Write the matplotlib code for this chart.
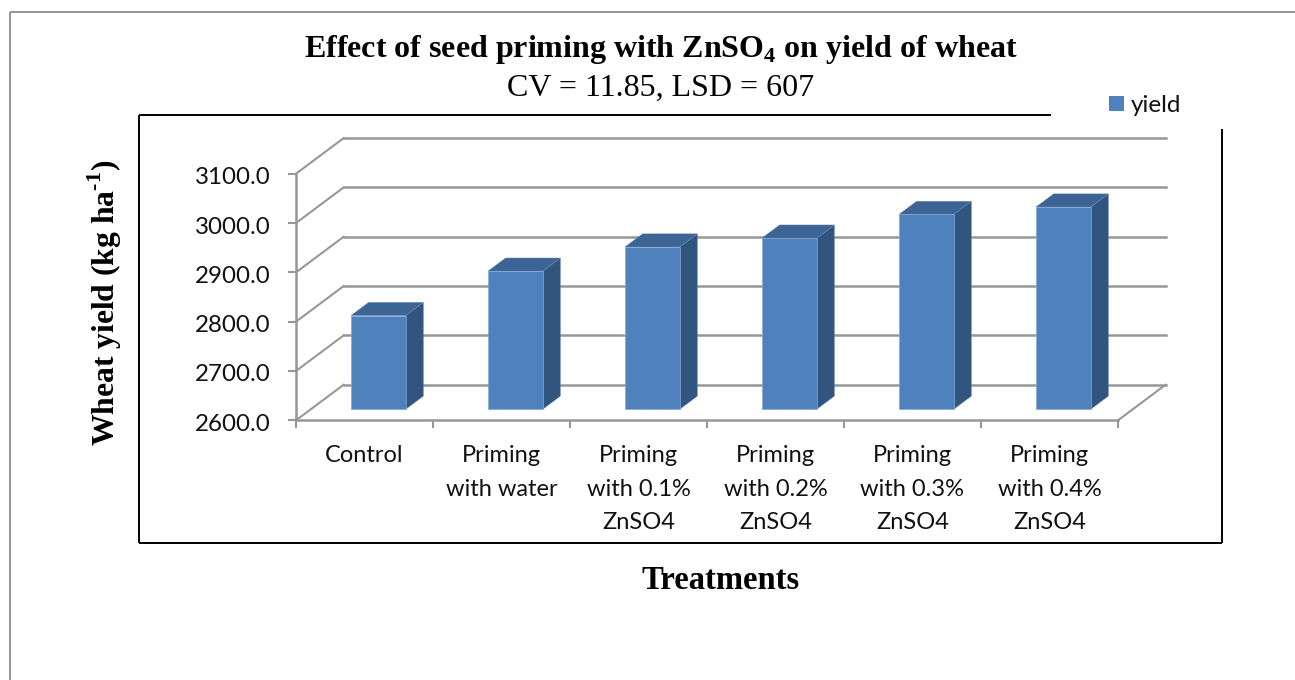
import matplotlib
matplotlib.use("Agg")
import matplotlib.pyplot as plt
from matplotlib.lines import Line2D
from matplotlib.patches import Polygon, Rectangle
from matplotlib.transforms import ScaledTranslation

W, H = 1295, 680

# data
treatments = ["Control", "Priming\nwith water", "Priming\nwith 0.1%\nZnSO4",
              "Priming\nwith 0.2%\nZnSO4", "Priming\nwith 0.3%\nZnSO4", "Priming\nwith 0.4%\nZnSO4"]
yield_vals = [2790, 2880, 2929, 2947, 2995, 3010]
y_ticks = [2600, 2700, 2800, 2900, 3000, 3100]

# fake 3d: how far the back wall sits from the front plane, in data units
DEPTH_X = 0.348
DEPTH_Y = 72.2
BAR_W = 0.40
BAR_D0, BAR_D1 = 0.31, 0.68
BAR_SHIFT = -0.007

GRID = "#979797"
FRONT = "#4F81BD"
SIDE = "#325580"
TOP = "#3C6494"

plt.rcParams["font.family"] = ["Lato", "DejaVu Sans"]
plt.rcParams["mathtext.fontset"] = "custom"
plt.rcParams["mathtext.rm"] = "Liberation Serif"
plt.rcParams["mathtext.bf"] = "Liberation Serif:bold"
SERIF = ["Liberation Serif", "DejaVu Serif"]


def px(x, y):
    return x / W, 1 - y / H


def proj(x, y, d):
    return x + d * DEPTH_X, y + d * DEPTH_Y


def fig_line(x0, y0, x1, y1, color, lw):
    (a, b), (c, d) = px(x0, y0), px(x1, y1)
    fig.add_artist(Line2D([a, c], [b, d], color=color, lw=lw, solid_capstyle="butt"))


fig = plt.figure(figsize=(W / 100, H / 100), dpi=100)
ax = fig.add_axes([296 / W, 1 - 420.3 / H, 822 / W, 246.6 / H])
ax.patch.set_alpha(0)
ax.set_xlim(0, len(treatments))
ax.set_ylim(y_ticks[0], y_ticks[-1])

# back wall and side wall lines
for v in y_ticks:
    x0, y0 = proj(0, v, 1)
    x1, y1 = proj(len(treatments), v, 1)
    ax.plot([0, x0], [v, y0], color=GRID, lw=1.5, clip_on=False, zorder=1)
    ax.plot([x0, x1], [y0, y1], color=GRID, lw=1.8, clip_on=False, zorder=1)
# floor right edge
x1, y1 = proj(len(treatments), y_ticks[0], 1)
ax.plot([len(treatments), x1], [y_ticks[0], y1], color=GRID, lw=1.5, clip_on=False, zorder=1)

# bars
for i, v in enumerate(yield_vals):
    xl = i + 0.5 - BAR_W / 2 + BAR_SHIFT
    xr = i + 0.5 + BAR_W / 2 + BAR_SHIFT
    base = y_ticks[0]
    a = proj(xl, base, BAR_D0)
    b = proj(xr, base, BAR_D0)
    c = proj(xr, v, BAR_D0)
    d = proj(xl, v, BAR_D0)
    e = proj(xr, base, BAR_D1)
    f = proj(xr, v, BAR_D1)
    g = proj(xl, v, BAR_D1)
    ax.add_patch(Polygon([b, e, f, c], fc=SIDE, ec="#5f80a8", lw=0.3, clip_on=False, zorder=3))
    ax.add_patch(Polygon([d, c, f, g], fc=TOP, ec="#6a8cb5", lw=0.3, clip_on=False, zorder=3))
    ax.add_patch(Polygon([a, b, c, d], fc=FRONT, ec="#86a9d3", lw=0.5, clip_on=False, zorder=4))

for s in ["top", "right"]:
    ax.spines[s].set_visible(False)
for s in ["left", "bottom"]:
    ax.spines[s].set_color(GRID)
    ax.spines[s].set_linewidth(1.8)

ax.set_yticks(y_ticks)
ax.set_yticklabels([f"{v:.1f}" for v in y_ticks], fontsize=17.4, color="#111111")
ax.tick_params(axis="y", length=6, width=1.5, color=GRID, pad=12)
# the value labels sit a little below their ticks in the reference
nudge = ScaledTranslation(0, -2 / 100, fig.dpi_scale_trans)
for lab in ax.get_yticklabels():
    lab.set_transform(lab.get_transform() + nudge)

ax.set_xticks(range(len(treatments) + 1))
ax.set_xticklabels([])
ax.tick_params(axis="x", which="major", length=6, width=1.5, color=GRID)
ax.set_xticks([i + 0.5 for i in range(len(treatments))], minor=True)
ax.set_xticklabels(treatments, minor=True, fontsize=17, color="#111111", linespacing=1.73)
ax.tick_params(axis="x", which="minor", length=0, pad=18)

# outer frame and chart box (box has a gap by the legend)
fig_line(10.2, 11.5, 10.2, 680, "#808080", 1.2)
fig_line(10.2, 11.5, 1295, 11.5, "#808080", 1.2)
fig_line(139, 115, 1051, 115, "black", 1.4)
fig_line(139, 115, 139, 543, "black", 1.4)
fig_line(139, 543, 1222, 543, "black", 1.4)
fig_line(1222, 129, 1222, 543, "black", 1.4)

# legend
lx, ly = px(1109, 111)
fig.add_artist(Rectangle((lx, ly), 15 / W, 15 / H, fc=FRONT, ec="none", transform=fig.transFigure))
fig.text(*px(1131, 105.5), "yield", fontsize=17.5, color="#111111", ha="left", va="center")

# titles
fig.text(*px(661, 50), "Effect of seed priming with ZnSO$_{\\mathbf{4}}$ on yield of wheat",
         family=SERIF, fontsize=23, fontweight="bold", ha="center", va="center")
fig.text(*px(661, 88), "CV = 11.85, LSD = 607", family=SERIF, fontsize=23, ha="center", va="center")
fig.text(*px(720, 580.5), "Treatments", family=SERIF, fontsize=23.5, fontweight="bold", ha="center", va="center")
fig.text(*px(105, 303), "Wheat yield (kg ha$^{\\mathbf{\u20101}}$)", family=SERIF, fontsize=22.8, fontweight="bold",
         rotation=90, ha="center", va="center")

fig.savefig("out.png", dpi=100)
